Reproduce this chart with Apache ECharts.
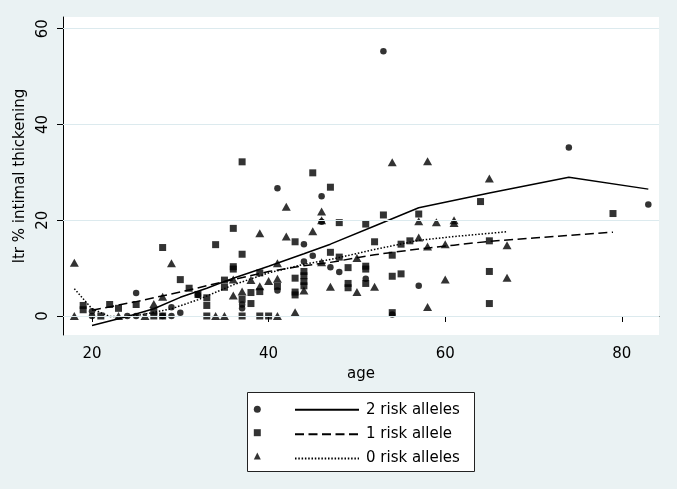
<!DOCTYPE html>
<html>
<head>
<meta charset="utf-8">
<script src="https://cdn.jsdelivr.net/npm/echarts@6/dist/echarts.min.js"></script>
<style>html,body{margin:0;padding:0;background:#EAF2F3;}#c{width:677px;height:489px;}</style>
</head>
<body>
<div id="c"></div>
<script>
// ---- data ----
const xTicks = [20, 40, 60, 80];
const yTicks = [0, 20, 40, 60];

// 2 risk alleles (circles)
const age2 = [20,20,24,25,25,28,29,29,30,32,37,37,41,41,44,44,45,46,46,47,48,51,53,54,57,74,83];
const val2 = [0,1.0,0,0,4.8,0,0,1.8,0.7,4.4,1.6,2.4,26.7,5.3,15.0,11.4,12.6,25.0,19.7,10.2,9.2,7.8,55.3,0.3,6.3,35.2,23.3];

// 1 risk allele (squares)
const age1 = [19,19,21,22,23,25,27,27,28,28,30,31,32,33,33,33,34,35,35,36,36,36,37,37,37,37,38,38,39,39,39,40,41,43,43,43,43,44,44,44,44,45,47,47,48,48,49,49,49,51,51,51,51,52,53,54,54,54,55,55,56,57,64,65,65,65,79];
const val1 = [2.2,1.3,0,2.4,1.6,2.4,0,1.0,0,14.3,7.6,5.8,4.5,3.8,2.2,0,14.9,7.5,6.0,18.3,10.3,9.8,32.2,12.9,3.5,0,4.9,2.6,9.0,5.1,0,0,6.2,15.5,7.9,5.0,4.4,9.3,8.4,7.2,6.3,29.9,26.9,13.3,19.5,12.3,10.1,6.8,5.9,19.2,10.4,9.8,6.8,15.5,21.1,12.7,8.3,0.7,8.8,15.0,15.7,21.3,23.9,15.7,9.3,2.6,21.4];

// 0 risk alleles (triangles)
const age0 = [18,18,23,26,27,28,29,34,35,36,36,37,38,39,39,40,41,41,41,42,42,43,44,45,46,46,46,47,50,50,52,54,57,57,58,58,58,59,60,60,61,61,65,67,67];
const val0 = [11.1,0,0,0,2.5,4.0,11.0,0,0,7.6,4.3,5.1,7.5,17.3,6.2,7.3,11.0,7.8,0,22.8,16.6,0.8,5.3,17.7,21.8,20.0,11.2,6.1,12.1,5.0,6.1,32.1,19.8,16.4,32.3,14.5,1.9,19.6,15.0,7.6,20.0,19.4,28.7,14.8,8.0];

// smoothed fit lines
const fit2Age = [20,24,27,30,33,36,40,44,47,52,57,65,74,83];
const fit2Val = [-2.0,-0.1,1.5,3.9,5.8,7.9,10.4,13.0,15.0,18.8,22.6,25.7,29.0,26.5];
const fit1Age = [20,25,30,35,40,44,47,52,57,61,65,70,79];
const fit1Val = [1.2,3.0,5.0,7.2,9.3,10.5,11.2,12.8,14.0,14.8,15.6,16.3,17.5];
const fit0Age = [18,20,22,24,26,29,32,36,40,44,47,52,57,61,67];
const fit0Val = [5.7,1.5,-0.1,-0.2,0.4,1.5,3.4,6.5,9.0,10.8,11.8,13.9,15.8,16.6,17.6];

const names = ['2 risk alleles', '1 risk allele', '0 risk alleles'];
const markerNames = ['marker 2', 'marker 1', 'marker 0'];

const zip = (a, b) => a.map((v, i) => [v, b[i]]);
const FONT = 'DejaVu Sans';
const INK = '#000';

const chart = echarts.init(document.getElementById('c'), null, {renderer: 'canvas'});
chart.setOption({
  animation: false,
  backgroundColor: '#EAF2F3',
  textStyle: {fontFamily: FONT},
  grid: {left: 63, right: 18, top: 17, bottom: 154, show: true, backgroundColor: '#fff', borderWidth: 0},
  xAxis: {
    type: 'value', min: 16.716, max: 84.21,
    name: 'age', nameLocation: 'middle', nameGap: 29,
    nameTextStyle: {fontFamily: FONT, fontSize: 15, color: INK},
    axisLine: {show: true, lineStyle: {color: INK, width: 1}},
    axisTick: {show: true, length: 6, customValues: xTicks, lineStyle: {color: INK}},
    axisLabel: {customValues: xTicks, margin: 12, fontFamily: FONT, fontSize: 15, color: INK},
    splitLine: {show: false}
  },
  yAxis: {
    type: 'value', min: -3.97, max: 62.45,
    name: 'ltr % intimal thickening', nameLocation: 'middle', nameGap: 29, nameRotate: 90,
    nameTextStyle: {fontFamily: FONT, fontSize: 15, color: INK},
    axisLine: {show: true, lineStyle: {color: INK, width: 1}},
    axisTick: {show: true, length: 6, customValues: yTicks, lineStyle: {color: INK}},
    axisLabel: {customValues: yTicks, rotate: 90, margin: 12, fontFamily: FONT, fontSize: 15, color: INK},
    splitLine: {show: false}
  },
  graphic: [{
    type: 'rect', z: 0,
    shape: {x: 247.5, y: 392.5, width: 227, height: 79},
    style: {fill: '#fff', stroke: '#222', lineWidth: 1}
  }],
  legend: [
    {
      data: markerNames, orient: 'vertical', left: 253.8, top: 405.8,
      itemWidth: 7, itemHeight: 7, itemGap: 16.4, padding: 0,
      formatter: () => '', textStyle: {fontSize: 1, lineHeight: 1},
      selectedMode: false
    },
    {
      data: names, orient: 'vertical', left: 294, top: 402.3,
      itemWidth: 64, itemHeight: 14, itemGap: 9.4, padding: 0,
      itemStyle: {opacity: 0},
      textStyle: {fontFamily: FONT, fontSize: 15, lineHeight: 14, color: INK, padding: [0, 0, 0, 2]},
      selectedMode: false
    }
  ],
  series: [
    {type: 'line', data: [], z: 1, silent: true,
     markLine: {silent: true, symbol: 'none', label: {show: false},
       lineStyle: {color: '#DCEAEE', width: 1, type: 'solid'},
       emphasis: {disabled: true},
       data: yTicks.map(v => ({yAxis: v}))}},
    {name: markerNames[0], type: 'scatter', symbol: 'circle', symbolSize: 6.5, data: zip(age2, val2), itemStyle: {color: INK}, z: 3},
    {name: markerNames[1], type: 'scatter', symbol: 'rect', symbolSize: 7, data: zip(age1, val1), itemStyle: {color: INK}, z: 3},
    {name: markerNames[2], type: 'scatter', symbol: 'triangle', symbolSize: [9, 8], data: zip(age0, val0), itemStyle: {color: INK}, z: 3},
    {name: names[0], type: 'line', showSymbol: false, symbol: 'none', data: zip(fit2Age, fit2Val),
     itemStyle: {color: INK}, lineStyle: {color: INK, width: 1.5, type: 'solid'}, z: 4},
    {name: names[1], type: 'line', showSymbol: false, symbol: 'none', data: zip(fit1Age, fit1Val),
     itemStyle: {color: INK}, lineStyle: {color: INK, width: 1.5, type: [9, 4.5]}, z: 4},
    {name: names[2], type: 'line', showSymbol: false, symbol: 'none', data: zip(fit0Age, fit0Val),
     itemStyle: {color: INK}, lineStyle: {color: INK, width: 1.5, type: [1.5, 1.8]}, z: 4}
  ]
});
</script>
</body>
</html>
